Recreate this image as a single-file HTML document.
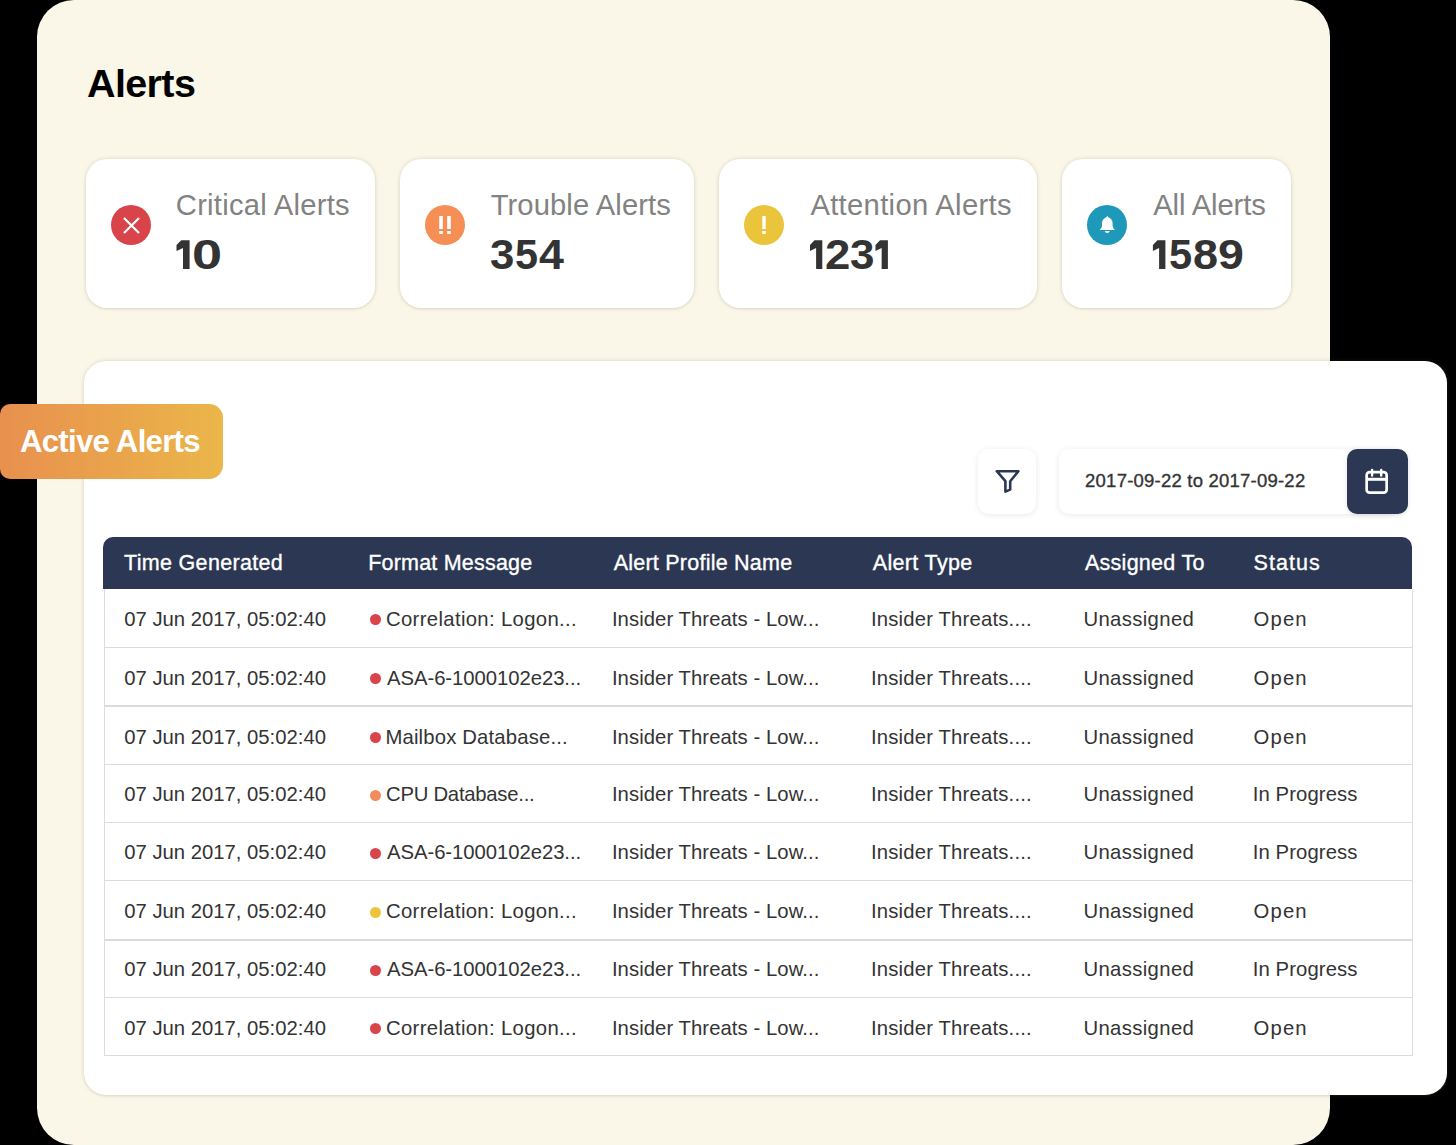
<!DOCTYPE html>
<html><head><meta charset="utf-8"><style>
*{margin:0;padding:0;box-sizing:border-box}
html,body{width:1456px;height:1145px;overflow:hidden;background:#000}
body{position:relative;font-family:"Liberation Sans",sans-serif}
.t{position:absolute;line-height:1;white-space:nowrap}
.abs{position:absolute}
#panel{left:37px;top:0;width:1293px;height:1145px;background:#faf7e9;border-radius:37px}
.card{top:159px;height:149px;background:#fff;border-radius:21px;box-shadow:0 0 4px rgba(120,105,60,0.22),0 1px 2px rgba(120,105,60,0.10)}
.ic{top:205px;width:40px;height:40px;border-radius:50%}
#white{left:84px;top:361px;width:1363px;height:734px;background:#fff;border-radius:22px;box-shadow:0 0 4px rgba(120,105,60,0.22),0 1px 2px rgba(120,105,60,0.10)}
#badge{left:0;top:404px;width:223px;height:75px;border-radius:10px 14px 14px 10px;background:linear-gradient(90deg,#e8904e 0%,#ebb64a 100%)}
#filter{left:978px;top:449px;width:58px;height:65px;background:#fff;border-radius:11px;box-shadow:0 1px 6px rgba(0,0,0,0.09)}
#datebox{left:1059px;top:449px;width:340px;height:65px;background:#fff;border-radius:10px;box-shadow:0 1px 6px rgba(0,0,0,0.09)}
#cal{left:1347px;top:449px;width:61px;height:65px;background:#2c3753;border-radius:10px;box-shadow:0 1px 5px rgba(0,0,0,0.12)}
#thead{left:103px;top:537px;width:1309px;height:52px;background:#2c3753;border-radius:10px 10px 0 0}
#tbody{left:104px;top:589px;width:1309px;height:467px;border:1px solid #dcdcdc;border-top:none}
.hl{position:absolute;left:104px;width:1309px;height:1px;background:#dcdcdc}
.dot{position:absolute;width:11px;height:11px;border-radius:50%}
</style></head><body>
<div class="abs" id="panel"></div>

<div class="abs card" style="left:86px;width:289px"></div>
<div class="abs card" style="left:400px;width:294px"></div>
<div class="abs card" style="left:719px;width:318px"></div>
<div class="abs card" style="left:1062px;width:229px"></div>
<div class="abs ic" style="left:111px;background:#d9444a"></div>
<svg class="abs" style="left:111px;top:205px" width="40" height="40" viewBox="0 0 40 40"><path d="M13 13 L28 28 M28 13 L13 28" stroke="#fff" stroke-width="2.2"/></svg>
<div class="abs ic" style="left:425px;background:#f58f56"></div>
<svg class="abs" style="left:425px;top:205px" width="40" height="40" viewBox="0 0 40 40"><g fill="#fff"><rect x="14.2" y="11" width="3.6" height="13"/><rect x="14.2" y="26" width="3.6" height="3"/><rect x="22.2" y="11" width="3.6" height="13"/><rect x="22.2" y="26" width="3.6" height="3"/></g></svg>
<div class="abs ic" style="left:744px;background:#eac43b"></div>
<svg class="abs" style="left:744px;top:205px" width="40" height="40" viewBox="0 0 40 40"><g fill="#fff"><rect x="18.3" y="11" width="3.4" height="13"/><rect x="18.3" y="26" width="3.4" height="3"/></g></svg>
<div class="abs ic" style="left:1087px;background:#1e99b9"></div>
<svg class="abs" style="left:1087px;top:205px" width="40" height="40" viewBox="0 0 40 40"><path fill="#fff" d="M20.3 11 C19.6 11.6 19.3 12.3 18.8 12.6 C16.5 13.6 15 15.3 15 18.5 V20.5 C15 22.2 14 23.4 13 24.5 V25 H27.6 V24.5 C26.6 23.4 25.6 22.2 25.6 20.5 V18.5 C25.6 15.3 24.1 13.6 21.8 12.6 C21.3 12.3 21 11.6 20.3 11 Z M17.8 26 H22.7 C22.4 27.2 21.5 27.9 20.25 27.9 C19 27.9 18.1 27.2 17.8 26 Z"/></svg>
<div class="abs" id="white"></div>
<div class="abs" id="badge"></div>
<div class="abs" id="filter"></div>
<svg class="abs" style="left:978px;top:449px" width="58" height="65" viewBox="978 449 58 65"><path d="M996.8 471.2 H1018.4 L1010.2 481.2 V489.6 L1005.4 491.6 V481.2 Z" fill="none" stroke="#2c3753" stroke-width="2.6" stroke-linejoin="round"/></svg>
<div class="abs" id="datebox"></div>
<div class="abs" id="cal"></div>
<svg class="abs" style="left:1347px;top:449px" width="61" height="65" viewBox="1347 449 61 65"><g fill="none" stroke="#fff"><rect x="1366.65" y="472.05" width="20" height="20.6" rx="3" stroke-width="2.7"/><path d="M1366.6 479.3 H1386.7" stroke-width="3"/><path d="M1372.1 469.9 V475.5 M1381.2 469.9 V475.5" stroke-width="2.4" stroke-linecap="round"/></g></svg>
<div class="abs" id="thead"></div>
<div class="abs" id="tbody"></div>
<div class="hl" style="top:647px;height:1px"></div>
<div class="hl" style="top:705px;height:2px"></div>
<div class="hl" style="top:764px;height:1px"></div>
<div class="hl" style="top:822px;height:1px"></div>
<div class="hl" style="top:880px;height:1px"></div>
<div class="hl" style="top:939px;height:2px"></div>
<div class="hl" style="top:997px;height:1px"></div>
<div class="dot" style="left:370px;top:614.3px;background:#d9434a"></div>
<div class="dot" style="left:370px;top:673.1px;background:#d9434a"></div>
<div class="dot" style="left:370px;top:732.3px;background:#d9434a"></div>
<div class="dot" style="left:370px;top:789.8px;background:#f28d5a"></div>
<div class="dot" style="left:370px;top:847.8px;background:#d9434a"></div>
<div class="dot" style="left:370px;top:906.5px;background:#ecc43c"></div>
<div class="dot" style="left:370px;top:964.8px;background:#d9434a"></div>
<div class="dot" style="left:370px;top:1023.1px;background:#d9434a"></div>
<svg class="abs" style="left:0;top:0;overflow:visible" width="1" height="1"><polygon points="181.29,240.30 189.60,240.30 189.60,268.90 183.00,268.90 183.00,247.90 176.50,250.90 176.50,245.00" fill="#333333"/></svg>
<svg class="abs" style="left:0;top:0;overflow:visible" width="1" height="1"><polygon points="814.50,240.30 822.30,240.30 822.30,268.90 816.10,268.90 816.10,247.90 810.00,250.90 810.00,245.00" fill="#333333"/></svg>
<svg class="abs" style="left:0;top:0;overflow:visible" width="1" height="1"><polygon points="880.04,240.30 887.90,240.30 887.90,268.90 881.65,268.90 881.65,247.90 875.50,250.90 875.50,245.00" fill="#333333"/></svg>
<svg class="abs" style="left:0;top:0;overflow:visible" width="1" height="1"><polygon points="1157.47,240.30 1165.40,240.30 1165.40,268.90 1159.10,268.90 1159.10,247.90 1152.90,250.90 1152.90,245.00" fill="#333333"/></svg>
<div class="t" id="title" style="left:87.00px;top:63.56px;font-size:39.5px;font-weight:700;letter-spacing:-0.620px;color:#000;">Alerts</div>
<div class="t" id="lab0" style="left:175.80px;top:191.28px;font-size:29.2px;font-weight:400;letter-spacing:0.257px;color:#828282;">Critical Alerts</div>
<div class="t" id="lab1" style="left:490.70px;top:191.28px;font-size:29.2px;font-weight:400;letter-spacing:0.092px;color:#828282;">Trouble Alerts</div>
<div class="t" id="lab2" style="left:810.40px;top:191.28px;font-size:29.2px;font-weight:400;letter-spacing:0.320px;color:#828282;">Attention Alerts</div>
<div class="t" id="lab3" style="left:1153.20px;top:191.28px;font-size:29.2px;font-weight:400;letter-spacing:-0.111px;color:#828282;">All Alerts</div>
<div class="t" id="ng1" style="left:192.02px;top:233.78px;font-size:41.6px;font-weight:700;color:#333333;transform-origin:0 0;transform:scaleX(1.302)">0</div>
<div class="t" id="ng2" style="left:490.25px;top:233.78px;font-size:41.6px;font-weight:700;color:#333333;transform-origin:0 0;transform:scaleX(1.053)">3</div>
<div class="t" id="ng3" style="left:515.31px;top:233.78px;font-size:41.6px;font-weight:700;color:#333333;transform-origin:0 0;transform:scaleX(0.995)">5</div>
<div class="t" id="ng4" style="left:539.05px;top:233.78px;font-size:41.6px;font-weight:700;color:#333333;transform-origin:0 0;transform:scaleX(1.076)">4</div>
<div class="t" id="ng6" style="left:824.57px;top:233.78px;font-size:41.6px;font-weight:700;color:#333333;transform-origin:0 0;transform:scaleX(1.095)">2</div>
<div class="t" id="ng7" style="left:849.85px;top:233.78px;font-size:41.6px;font-weight:700;color:#333333;transform-origin:0 0;transform:scaleX(1.058)">3</div>
<div class="t" id="ng10" style="left:1169.10px;top:233.78px;font-size:41.6px;font-weight:700;color:#333333;transform-origin:0 0;transform:scaleX(1.000)">5</div>
<div class="t" id="ng11" style="left:1193.09px;top:233.78px;font-size:41.6px;font-weight:700;color:#333333;transform-origin:0 0;transform:scaleX(1.083)">8</div>
<div class="t" id="ng12" style="left:1218.23px;top:233.78px;font-size:41.6px;font-weight:700;color:#333333;transform-origin:0 0;transform:scaleX(1.119)">9</div>
<div class="t" id="badgetxt" style="left:19.90px;top:426.08px;font-size:31.2px;font-weight:700;letter-spacing:-0.733px;color:#fff;">Active Alerts</div>
<div class="t" id="date" style="left:1085.10px;top:472.34px;font-size:18.5px;font-weight:400;letter-spacing:0.222px;color:#333333;-webkit-text-stroke:0.35px #333333;">2017-09-22 to 2017-09-22</div>
<div class="t" id="h0" style="left:124.00px;top:552.60px;font-size:21.5px;font-weight:400;letter-spacing:0.323px;color:#fff;-webkit-text-stroke:0.35px #fff;">Time Generated</div>
<div class="t" id="h1" style="left:368.20px;top:552.60px;font-size:21.5px;font-weight:400;letter-spacing:0.208px;color:#fff;-webkit-text-stroke:0.35px #fff;">Format Message</div>
<div class="t" id="h2" style="left:613.70px;top:552.60px;font-size:21.5px;font-weight:400;letter-spacing:0.235px;color:#fff;-webkit-text-stroke:0.35px #fff;">Alert Profile Name</div>
<div class="t" id="h3" style="left:872.70px;top:552.60px;font-size:21.5px;font-weight:400;letter-spacing:0.356px;color:#fff;-webkit-text-stroke:0.35px #fff;">Alert Type</div>
<div class="t" id="h4" style="left:1084.90px;top:552.60px;font-size:21.5px;font-weight:400;letter-spacing:0.280px;color:#fff;-webkit-text-stroke:0.35px #fff;">Assigned To</div>
<div class="t" id="h5" style="left:1253.60px;top:552.60px;font-size:21.5px;font-weight:400;letter-spacing:1.040px;color:#fff;-webkit-text-stroke:0.35px #fff;">Status</div>
<div class="t" id="r0c0" style="left:124.30px;top:608.81px;font-size:20.3px;font-weight:400;letter-spacing:-0.010px;color:#333333;">07 Jun 2017, 05:02:40</div>
<div class="t" id="r0c1" style="left:386.00px;top:608.81px;font-size:20.3px;font-weight:400;letter-spacing:0.345px;color:#333333;">Correlation: Logon...</div>
<div class="t" id="r0c2" style="left:611.90px;top:608.81px;font-size:20.3px;font-weight:400;letter-spacing:0.065px;color:#333333;">Insider Threats - Low...</div>
<div class="t" id="r0c3" style="left:870.90px;top:608.81px;font-size:20.3px;font-weight:400;letter-spacing:0.189px;color:#333333;">Insider Threats....</div>
<div class="t" id="r0c4" style="left:1083.40px;top:608.81px;font-size:20.3px;font-weight:400;letter-spacing:0.367px;color:#333333;">Unassigned</div>
<div class="t" id="r0c5" style="left:1253.60px;top:608.81px;font-size:20.3px;font-weight:400;letter-spacing:1.133px;color:#333333;">Open</div>
<div class="t" id="r1c0" style="left:124.30px;top:667.61px;font-size:20.3px;font-weight:400;letter-spacing:-0.010px;color:#333333;">07 Jun 2017, 05:02:40</div>
<div class="t" id="r1c1" style="left:387.00px;top:667.61px;font-size:20.3px;font-weight:400;letter-spacing:-0.050px;color:#333333;">ASA-6-1000102e23...</div>
<div class="t" id="r1c2" style="left:611.90px;top:667.61px;font-size:20.3px;font-weight:400;letter-spacing:0.065px;color:#333333;">Insider Threats - Low...</div>
<div class="t" id="r1c3" style="left:870.90px;top:667.61px;font-size:20.3px;font-weight:400;letter-spacing:0.189px;color:#333333;">Insider Threats....</div>
<div class="t" id="r1c4" style="left:1083.40px;top:667.61px;font-size:20.3px;font-weight:400;letter-spacing:0.367px;color:#333333;">Unassigned</div>
<div class="t" id="r1c5" style="left:1253.60px;top:667.61px;font-size:20.3px;font-weight:400;letter-spacing:1.133px;color:#333333;">Open</div>
<div class="t" id="r2c0" style="left:124.30px;top:726.81px;font-size:20.3px;font-weight:400;letter-spacing:-0.010px;color:#333333;">07 Jun 2017, 05:02:40</div>
<div class="t" id="r2c1" style="left:385.40px;top:726.81px;font-size:20.3px;font-weight:400;letter-spacing:0.167px;color:#333333;">Mailbox Database...</div>
<div class="t" id="r2c2" style="left:611.90px;top:726.81px;font-size:20.3px;font-weight:400;letter-spacing:0.065px;color:#333333;">Insider Threats - Low...</div>
<div class="t" id="r2c3" style="left:870.90px;top:726.81px;font-size:20.3px;font-weight:400;letter-spacing:0.189px;color:#333333;">Insider Threats....</div>
<div class="t" id="r2c4" style="left:1083.40px;top:726.81px;font-size:20.3px;font-weight:400;letter-spacing:0.367px;color:#333333;">Unassigned</div>
<div class="t" id="r2c5" style="left:1253.60px;top:726.81px;font-size:20.3px;font-weight:400;letter-spacing:1.133px;color:#333333;">Open</div>
<div class="t" id="r3c0" style="left:124.30px;top:784.31px;font-size:20.3px;font-weight:400;letter-spacing:-0.010px;color:#333333;">07 Jun 2017, 05:02:40</div>
<div class="t" id="r3c1" style="left:386.00px;top:784.31px;font-size:20.3px;font-weight:400;letter-spacing:-0.250px;color:#333333;">CPU Database...</div>
<div class="t" id="r3c2" style="left:611.90px;top:784.31px;font-size:20.3px;font-weight:400;letter-spacing:0.065px;color:#333333;">Insider Threats - Low...</div>
<div class="t" id="r3c3" style="left:870.90px;top:784.31px;font-size:20.3px;font-weight:400;letter-spacing:0.189px;color:#333333;">Insider Threats....</div>
<div class="t" id="r3c4" style="left:1083.40px;top:784.31px;font-size:20.3px;font-weight:400;letter-spacing:0.367px;color:#333333;">Unassigned</div>
<div class="t" id="r3c5" style="left:1252.70px;top:784.31px;font-size:20.3px;font-weight:400;letter-spacing:0.110px;color:#333333;">In Progress</div>
<div class="t" id="r4c0" style="left:124.30px;top:842.31px;font-size:20.3px;font-weight:400;letter-spacing:-0.010px;color:#333333;">07 Jun 2017, 05:02:40</div>
<div class="t" id="r4c1" style="left:387.00px;top:842.31px;font-size:20.3px;font-weight:400;letter-spacing:-0.050px;color:#333333;">ASA-6-1000102e23...</div>
<div class="t" id="r4c2" style="left:611.90px;top:842.31px;font-size:20.3px;font-weight:400;letter-spacing:0.065px;color:#333333;">Insider Threats - Low...</div>
<div class="t" id="r4c3" style="left:870.90px;top:842.31px;font-size:20.3px;font-weight:400;letter-spacing:0.189px;color:#333333;">Insider Threats....</div>
<div class="t" id="r4c4" style="left:1083.40px;top:842.31px;font-size:20.3px;font-weight:400;letter-spacing:0.367px;color:#333333;">Unassigned</div>
<div class="t" id="r4c5" style="left:1252.70px;top:842.31px;font-size:20.3px;font-weight:400;letter-spacing:0.110px;color:#333333;">In Progress</div>
<div class="t" id="r5c0" style="left:124.30px;top:901.01px;font-size:20.3px;font-weight:400;letter-spacing:-0.010px;color:#333333;">07 Jun 2017, 05:02:40</div>
<div class="t" id="r5c1" style="left:386.00px;top:901.01px;font-size:20.3px;font-weight:400;letter-spacing:0.345px;color:#333333;">Correlation: Logon...</div>
<div class="t" id="r5c2" style="left:611.90px;top:901.01px;font-size:20.3px;font-weight:400;letter-spacing:0.065px;color:#333333;">Insider Threats - Low...</div>
<div class="t" id="r5c3" style="left:870.90px;top:901.01px;font-size:20.3px;font-weight:400;letter-spacing:0.189px;color:#333333;">Insider Threats....</div>
<div class="t" id="r5c4" style="left:1083.40px;top:901.01px;font-size:20.3px;font-weight:400;letter-spacing:0.367px;color:#333333;">Unassigned</div>
<div class="t" id="r5c5" style="left:1253.60px;top:901.01px;font-size:20.3px;font-weight:400;letter-spacing:1.133px;color:#333333;">Open</div>
<div class="t" id="r6c0" style="left:124.30px;top:959.31px;font-size:20.3px;font-weight:400;letter-spacing:-0.010px;color:#333333;">07 Jun 2017, 05:02:40</div>
<div class="t" id="r6c1" style="left:387.00px;top:959.31px;font-size:20.3px;font-weight:400;letter-spacing:-0.050px;color:#333333;">ASA-6-1000102e23...</div>
<div class="t" id="r6c2" style="left:611.90px;top:959.31px;font-size:20.3px;font-weight:400;letter-spacing:0.065px;color:#333333;">Insider Threats - Low...</div>
<div class="t" id="r6c3" style="left:870.90px;top:959.31px;font-size:20.3px;font-weight:400;letter-spacing:0.189px;color:#333333;">Insider Threats....</div>
<div class="t" id="r6c4" style="left:1083.40px;top:959.31px;font-size:20.3px;font-weight:400;letter-spacing:0.367px;color:#333333;">Unassigned</div>
<div class="t" id="r6c5" style="left:1252.70px;top:959.31px;font-size:20.3px;font-weight:400;letter-spacing:0.110px;color:#333333;">In Progress</div>
<div class="t" id="r7c0" style="left:124.30px;top:1017.61px;font-size:20.3px;font-weight:400;letter-spacing:-0.010px;color:#333333;">07 Jun 2017, 05:02:40</div>
<div class="t" id="r7c1" style="left:386.00px;top:1017.61px;font-size:20.3px;font-weight:400;letter-spacing:0.345px;color:#333333;">Correlation: Logon...</div>
<div class="t" id="r7c2" style="left:611.90px;top:1017.61px;font-size:20.3px;font-weight:400;letter-spacing:0.065px;color:#333333;">Insider Threats - Low...</div>
<div class="t" id="r7c3" style="left:870.90px;top:1017.61px;font-size:20.3px;font-weight:400;letter-spacing:0.189px;color:#333333;">Insider Threats....</div>
<div class="t" id="r7c4" style="left:1083.40px;top:1017.61px;font-size:20.3px;font-weight:400;letter-spacing:0.367px;color:#333333;">Unassigned</div>
<div class="t" id="r7c5" style="left:1253.60px;top:1017.61px;font-size:20.3px;font-weight:400;letter-spacing:1.133px;color:#333333;">Open</div>
</body></html>
